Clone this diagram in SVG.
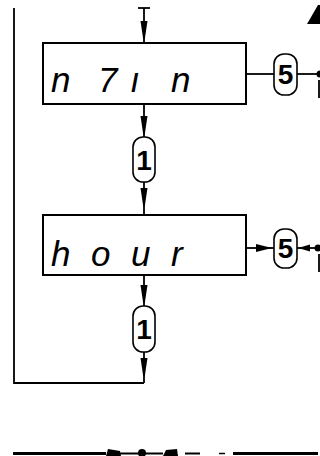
<svg xmlns="http://www.w3.org/2000/svg" width="320" height="456" viewBox="0 0 320 456">
<style>
.ln{fill:none;stroke:#000;stroke-width:1.8}
.box{fill:#fff;stroke:#000;stroke-width:2}
.cap{fill:#fff;stroke:#000;stroke-width:1.6}
.seg{font-family:"Liberation Sans",Arial,sans-serif;font-style:italic;font-size:35px;fill:#000}
.num{font-family:"Liberation Sans",Arial,sans-serif;font-weight:bold;font-size:28px;fill:#000;text-anchor:middle}
.ah{fill:#000;stroke:none}
</style>
<defs>
<path id="adn" d="M-3.5,0 L3.5,0 L0.8,18 L-0.8,18 Z"/>
</defs>
<rect width="320" height="456" fill="#fff"/>
<g id="connectors">
<line class="ln" x1="138" y1="8" x2="150" y2="8"/>
<line class="ln" x1="144" y1="8" x2="144" y2="43"/>
<use href="#adn" class="ah" x="144" y="21"/>
<line class="ln" x1="144" y1="104" x2="144" y2="137"/>
<use href="#adn" class="ah" x="144" y="116"/>
<line class="ln" x1="144" y1="182" x2="144" y2="215"/>
<use href="#adn" class="ah" x="144" y="188"/>
<line class="ln" x1="144" y1="275" x2="144" y2="306"/>
<use href="#adn" class="ah" x="144" y="285"/>
<line class="ln" x1="144" y1="352" x2="144" y2="383"/>
<use href="#adn" class="ah" x="144" y="358"/>
<polyline class="ln" points="144,383 14,383 14,8"/>
<line class="ln" x1="246" y1="74" x2="274" y2="74"/>
<line class="ln" x1="297" y1="74" x2="320" y2="74"/>
<circle cx="320" cy="74" r="3.5" class="ah"/>
<line class="ln" x1="319" y1="80" x2="319" y2="98"/>
<line class="ln" x1="246" y1="248" x2="274" y2="248"/>
<path class="ah" d="M272,248 L256,244 L256,252 Z"/>
<line class="ln" x1="297" y1="248" x2="320" y2="248"/>
<path class="ah" d="M298,248 L310,244.5 L310,251.5 Z"/>
<circle cx="318" cy="248" r="3.5" class="ah"/>
<line class="ln" x1="319" y1="254" x2="319" y2="272"/>
<polygon class="ah" points="307,24 318,5 320,5 320,24"/>
<line x1="13" y1="453.5" x2="106" y2="453.5" stroke="#000" stroke-width="3"/>
<path class="ah" d="M106,456 L108,449 L120,451 L121,456 Z"/>
<line x1="120" y1="453.5" x2="163" y2="453.5" stroke="#000" stroke-width="2"/>
<circle cx="142" cy="453" r="4" class="ah"/>
<path class="ah" d="M163,456 L166,450 L177,449 L178,456 Z"/>
<line x1="185" y1="453.5" x2="200" y2="453.5" stroke="#000" stroke-width="2"/>
<line x1="219" y1="453.5" x2="225" y2="453.5" stroke="#000" stroke-width="1.5"/>
<line x1="233" y1="453.5" x2="318" y2="453.5" stroke="#000" stroke-width="3"/>
</g>
<g id="node-min">
<rect class="box" x="43" y="43" width="203" height="61"/>
<text class="seg" x="51 98 130 171" y="92">n7ın</text>
</g>
<g id="node-hour">
<rect class="box" x="43" y="215" width="203" height="60"/>
<text class="seg" x="51 91 131 171" y="266">hour</text>
</g>
<g id="node-1a">
<rect class="cap" x="133" y="137" width="22" height="45" rx="10"/>
<text class="num" x="144" y="170">1</text>
</g>
<g id="node-1b">
<rect class="cap" x="133" y="306" width="22" height="46" rx="10"/>
<text class="num" x="144" y="339">1</text>
</g>
<g id="node-5a">
<rect class="cap" x="274" y="54" width="23" height="41" rx="10"/>
<text class="num" x="285.5" y="84">5</text>
</g>
<g id="node-5b">
<rect class="cap" x="274" y="229" width="23" height="39" rx="10"/>
<text class="num" x="285.5" y="258">5</text>
</g>
</svg>
